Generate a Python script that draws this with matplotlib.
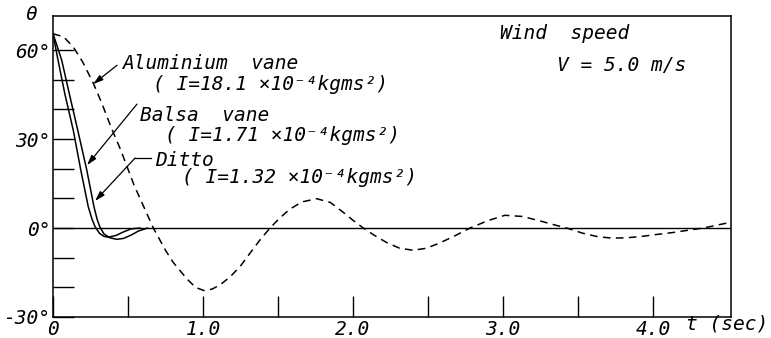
import matplotlib
matplotlib.use("Agg")
import matplotlib.pyplot as plt

# angle theta (deg) vs time t (sec)
t_alu = [0, 0.07, 0.135, 0.2, 0.269, 0.33, 0.391, 0.45, 0.502, 0.54, 0.58, 0.62, 0.669,
         0.75, 0.8, 0.89, 0.95, 1.007, 1.06, 1.113, 1.18, 1.247, 1.313, 1.38, 1.447,
         1.51, 1.58, 1.66, 1.758, 1.85, 1.935, 2.0, 2.069, 2.15, 2.225, 2.31, 2.402,
         2.49, 2.58, 2.68, 2.78, 2.9, 3.013, 3.13, 3.247, 3.34, 3.425, 3.535, 3.63,
         3.725, 3.82, 3.913, 4.02, 4.135, 4.24, 4.335, 4.43, 4.513]
th_alu = [65.5, 64.5, 61.1, 55.8, 48.8, 41.5, 33.5, 26.5, 19.6, 14.5, 10, 5.5, 0,
          -7.5, -11.5, -17, -20, -21.1, -20.6, -19.2, -16.5, -13, -8.5, -4.0, 0,
          3.3, 6.4, 8.8, 9.9, 8.6, 5.3, 2.6, 0, -2.7, -4.9, -6.8, -7.5,
          -6.8, -5.0, -2.6, 0, 2.5, 4.3, 3.9, 2.4, 1.1, 0, -1.8, -2.9,
          -3.4, -3.3, -2.9, -2.2, -1.5, -0.7, 0, 1.0, 1.9]

t_balsa = [0, 0.03, 0.058, 0.11, 0.165, 0.225, 0.273, 0.295, 0.313, 0.34, 0.38, 0.425,
           0.47, 0.52, 0.57, 0.63]
th_balsa = [65.5, 61, 56.6, 45, 33, 19.6, 7.2, 2.8, 0.3, -2, -3.3, -3.8,
            -3.5, -2.4, -1.0, 0]

t_ditto = [0, 0.03, 0.08, 0.135, 0.185, 0.235, 0.26, 0.28, 0.31, 0.34, 0.37, 0.42,
           0.47, 0.52, 0.58]
th_ditto = [65.5, 57.5, 45, 33, 19.6, 7.2, 3, 0.5, -1.8, -2.8, -3.1, -2.5,
            -1.3, -0.3, 0]

xtick_pos = [0, 0.5, 1.0, 1.5, 2.0, 2.5, 3.0, 3.5, 4.0]
xtick_lab = ['0', '', '1.0', '', '2.0', '', '3.0', '', '4.0']
ytick_pos = [-30, -20, -10, 0, 10, 20, 30, 40, 50, 60]
ytick_lab = ['-30°', '', '', '0°', '', '', '30°', '', '', '60°']

font = dict(family='DejaVu Sans Mono', style='oblique', size=14)

fig = plt.figure(figsize=(7.71, 3.38), dpi=100)
ax = fig.add_axes([53 / 771, 21 / 338, 678 / 771, 301 / 338])

ax.axhline(0, color='k', lw=1.0)
ax.plot(t_alu, th_alu, color='k', lw=1.1, dashes=(5, 3.5))
ax.plot(t_balsa, th_balsa, color='k', lw=1.1)
ax.plot(t_ditto, th_ditto, color='k', lw=1.1)

ax.set_xlim(0, 4.52)
ax.set_ylim(-30, 71.5)
for s in ax.spines.values():
    s.set_linewidth(1.1)

ax.set_xticks(xtick_pos)
ax.set_xticklabels(xtick_lab, fontdict=font)
ax.set_yticks(ytick_pos)
ax.set_yticklabels(ytick_lab, fontdict=font)
ax.tick_params(axis='x', direction='in', length=15, width=1.0, pad=2)
ax.tick_params(axis='y', direction='in', length=15, width=1.0, pad=2)

# labels of the curves
ax.text(0.46, 55.6, 'Aluminium  vane', va='center', **font)
ax.text(0.667, 48.5, '( I=18.1 ×10⁻⁴kgms²)', va='center', **font)
ax.text(0.58, 38.1, 'Balsa  vane', va='center', **font)
ax.text(0.747, 31.3, '( I=1.71 ×10⁻⁴kgms²)', va='center', **font)
ax.text(0.68, 22.9, 'Ditto', va='center', **font)
ax.text(0.86, 16.9, '( I=1.32 ×10⁻⁴kgms²)', va='center', **font)

arr = dict(arrowstyle='-|>,head_length=0.6,head_width=0.18', lw=0.9, color='k',
           shrinkA=0, shrinkB=0)
ax.annotate('', xy=(0.267, 48.5), xytext=(0.427, 54.9), arrowprops=arr)
ax.annotate('', xy=(0.227, 21.2), xytext=(0.56, 41.8), arrowprops=arr)
ax.annotate('', xy=(0.28, 9.1), xytext=(0.547, 23.6), arrowprops=arr)
ax.plot([0.547, 0.65], [23.6, 23.6], color='k', lw=0.9)

ax.text(2.98, 65.7, 'Wind  speed', va='center', **font)
ax.text(3.36, 54.9, 'V = 5.0 m/s', va='center', **font)

fig.text(31 / 771, 1 - 14 / 338, 'θ', ha='center', va='center', **font)
fig.text(686 / 771, 1 - 324 / 338, 't (sec)', va='center', **font)

fig.savefig('out.png', dpi=100)
